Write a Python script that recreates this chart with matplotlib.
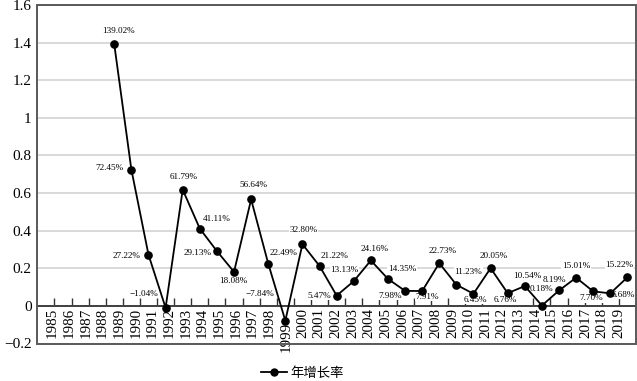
import matplotlib
matplotlib.use("Agg")
import matplotlib.pyplot as plt
from matplotlib.patches import Rectangle
from matplotlib.lines import Line2D

plt.rcParams['font.family'] = ['Liberation Serif', 'Noto Sans CJK SC', 'DejaVu Sans']

# ---- data ----
years = list(range(1985, 2020))
growth_years = list(range(1989, 2020))
growth = [1.3902, 0.7245, 0.2722, -0.0104, 0.6179, 0.4111, 0.2913, 0.1808,
          0.5664, 0.2249, -0.0784, 0.3280, 0.2122, 0.0547, 0.1313, 0.2416,
          0.1435, 0.0798, 0.0791, 0.2273, 0.1123, 0.0645, 0.2005, 0.0676,
          0.1054, 0.0018, 0.0819, 0.1501, 0.0770, 0.0668, 0.1522]
point_labels = ["139.02%", "72.45%", "27.22%", "\u22121.04%", "61.79%", "41.11%",
                "29.13%", "18.08%", "56.64%", "22.49%", "\u22127.84%", "32.80%",
                "21.22%", "5.47%", "13.13%", "24.16%", "14.35%", "7.98%", "7.91%",
                "22.73%", "11.23%", "6.45%", "20.05%", "6.76%", "10.54%", "0.18%",
                "8.19%", "15.01%", "7.70%", "6.68%", "15.22%"]
yticks = [-0.2, 0, 0.2, 0.4, 0.6, 0.8, 1.0, 1.2, 1.4, 1.6]
ytick_labels = ["\u22120.2", "0", "0.2", "0.4", "0.6", "0.8", "1", "1.2", "1.4", "1.6"]
series_name = "年增长率"

# label offsets in pixels (dx, dy)
label_offsets = [(4, 13), (-22, 2), (-22, -1), (-22, 14), (1, 12.5), (17, 9.5),
                 (-19, -2), (-1, -9), (2, 14), (15, 10.5), (-25, 27), (1, 14),
                 (15, 10), (-17, 0), (-9, 11), (3.5, 11.5), (14, 10), (-15, -5),
                 (5, -6), (3, 12.5), (12, 13), (2, -6), (3, 12), (-2, -7),
                 (2.5, 10), (0, 17), (-4.5, 10.5), (0, 12), (-2, -7), (13, -1.5),
                 (-8, 12.5)]

fig = plt.figure(figsize=(6.37, 3.81), dpi=100)
ax = fig.add_axes([37.3 / 637, 1 - 343.5 / 381, (636 - 37.3) / 637, (343.5 - 5) / 381])

n = len(years)
ax.set_xlim(-0.5, n - 0.5)
ax.set_ylim(-0.2, 1.6)

# gridlines
ax.set_yticks(yticks)
ax.set_yticklabels(ytick_labels, fontsize=11)
ax.yaxis.grid(True, color='#d9d9d9', linewidth=1.4)
ax.set_axisbelow(True)
ax.tick_params(axis='y', length=0, pad=4)

# frame
for s in ['top', 'right', 'left']:
    ax.spines[s].set_visible(False)
ax.spines['bottom'].set_position(('data', 0))
ax.spines['bottom'].set_color('#333333')
ax.spines['bottom'].set_linewidth(1.3)
ax.add_patch(Rectangle((0, 0), 1, 1, transform=ax.transAxes, fill=False,
                       edgecolor='#595959', linewidth=1.4, clip_on=False, zorder=5))

# x ticks between categories
ax.set_xticks([i + 0.5 for i in range(n - 1)])
ax.set_xticklabels([])
ax.tick_params(axis='x', direction='in', length=6, width=1, color='#333333')

# category labels
for i, yr in enumerate(years):
    lx = 0.39 + 0.974 * i
    dy = -16 if yr == 1999 else -2
    ax.annotate(str(yr), xy=(lx, 0), xytext=(0, dy), textcoords='offset pixels',
                rotation=90, ha='center', va='top', fontsize=10.8,
                annotation_clip=False)

# series
xs = [years.index(y) for y in growth_years]
ax.plot(xs, growth, color='black', linewidth=1.3, marker='o', markersize=5.2,
        zorder=6, clip_on=False)

for x, v, lab, (dx, dy) in zip(xs, growth, point_labels, label_offsets):
    ax.annotate(lab, xy=(x, v), xytext=(dx, dy), textcoords='offset pixels',
                ha='center', va='center', fontsize=6.6, zorder=4,
                bbox=dict(facecolor='white', edgecolor='none', pad=0.3))

handle = Line2D([], [], color='black', linewidth=1.3, marker='o', markersize=5)
fig.legend([handle], [series_name], loc='center',
           bbox_to_anchor=(302 / 637, 1 - 373 / 381), frameon=False,
           prop={'family': ['Noto Sans CJK SC'], 'size': 9.6},
           handlelength=2.0, handletextpad=0.2, borderpad=0)

fig.savefig("out.png", dpi=100)
